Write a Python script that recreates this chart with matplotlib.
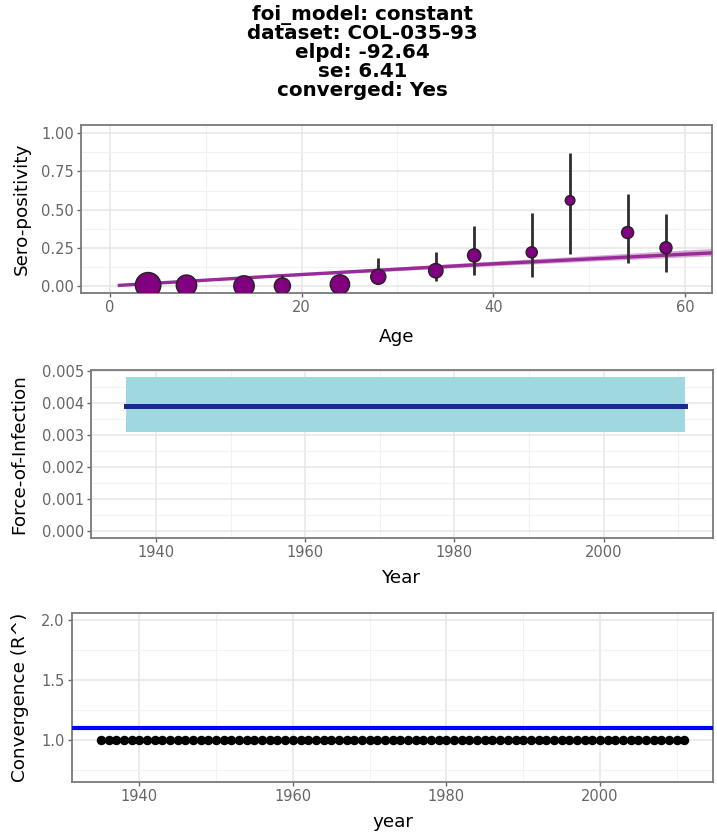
import matplotlib
matplotlib.use("Agg")
import matplotlib.pyplot as plt
import numpy as np

# --- data ---
title_lines = ["foi_model: constant", "dataset: COL-035-93", "elpd: -92.64",
               "se: 6.41", "converged: Yes"]

# sero-positivity by age group
ages = [4, 8, 14, 18, 24, 28, 34, 38, 44, 48, 54, 58]
prev = [0.005, 0.005, 0.0, 0.0, 0.01, 0.06, 0.10, 0.20, 0.22, 0.56, 0.35, 0.25]
prev_lo = [0.0, 0.0, 0.0, 0.0, 0.0, 0.025, 0.03, 0.07, 0.06, 0.21, 0.15, 0.09]
prev_hi = [0.03, 0.04, 0.05, 0.07, 0.06, 0.18, 0.22, 0.39, 0.48, 0.87, 0.60, 0.47]
n_sample = [62, 40, 40, 25, 36, 22, 20, 17, 12, 9, 14, 14]

# fitted sero-prevalence curve
fit_age = [1, 10, 20, 30, 40, 50, 60, 65]
fit_mid = [0.004, 0.038, 0.075, 0.110, 0.145, 0.177, 0.208, 0.223]
fit_lo = [0.003, 0.034, 0.068, 0.100, 0.132, 0.162, 0.190, 0.203]
fit_hi = [0.005, 0.043, 0.084, 0.124, 0.163, 0.199, 0.236, 0.252]

# force of infection (constant)
foi_years = [1936, 2011]
foi_mid = [0.0039, 0.0039]
foi_lo = [0.00307, 0.00307]
foi_hi = [0.00481, 0.00481]

# convergence
rhat_years = list(range(1935, 2012))
rhat = [1.0] * len(rhat_years)
rhat_threshold = 1.1

# --- style ---
plt.rcParams['font.family'] = ['DejaVu Sans']
TICK_C = '#666666'
GRID_MAJ = '#e6e6e6'
GRID_MIN = '#f2f2f2'
FRAME_C = '#7a7a7a'


def style_axes(ax, xmaj, xmin, ymaj, ymin, yfmt):
    ax.set_xticks(xmaj)
    ax.set_xticks(xmin, minor=True)
    ax.set_yticks(ymaj)
    ax.set_yticks(ymin, minor=True)
    ax.set_yticklabels([yfmt.format(v) for v in ymaj])
    ax.grid(True, which='major', color=GRID_MAJ, lw=1.1, zorder=0)
    ax.grid(True, which='minor', color=GRID_MIN, lw=0.8, zorder=0)
    ax.set_axisbelow(True)
    ax.tick_params(which='major', length=3, width=1.0, color=TICK_C,
                   labelcolor=TICK_C, labelsize=10.5, pad=2)
    ax.tick_params(which='minor', length=0)
    for sp in ax.spines.values():
        sp.set_color(FRAME_C)
        sp.set_linewidth(1.3)


fig = plt.figure(figsize=(7.17, 8.36), dpi=100)

# title, one line at a time
for i, line in enumerate(title_lines):
    fig.text(0.506, 1 - (15 + i * 18.8) / 836, line, ha='center', va='center',
             fontsize=14.3, fontweight='bold')

# panel 1: sero-positivity
ax1 = fig.add_axes([81 / 717, 1 - 293.3 / 836, 631 / 717, 168.3 / 836])
ax1.fill_between(fit_age, fit_lo, fit_hi, color='#b36bb3', alpha=0.55, lw=0, zorder=2)
ax1.plot(fit_age, fit_mid, color='#9a2a98', lw=2.4, zorder=3)
ax1.vlines(ages, prev_lo, prev_hi, color='#2e2e2e', lw=2.0, zorder=4)
ax1.scatter(ages, prev, s=[5.4 * n for n in n_sample], color='#800080',
            edgecolors='#222222', linewidths=1.0, zorder=5)
ax1.set_xlim(-3.0, 62.8)
ax1.set_ylim(-0.048, 1.054)
style_axes(ax1, [0, 20, 40, 60], [10, 30, 50],
           [0, 0.25, 0.5, 0.75, 1.0], [0.125, 0.375, 0.625, 0.875], '{:.2f}')
ax1.set_xlabel('Age', fontsize=13.2)
ax1.set_ylabel('Sero-positivity', fontsize=13.2)
ax1.xaxis.set_label_coords(0.5, -(337 - 293.3) / 168.3)
ax1.xaxis.label.set_va('center')
ax1.yaxis.set_label_coords(-(81 - 21.5) / 631, 0.5)
ax1.yaxis.label.set_va('center')

# panel 2: force of infection
ax2 = fig.add_axes([90.7 / 717, 1 - 537.7 / 836, 622 / 717, 168 / 836])
ax2.fill_between(foi_years, foi_lo, foi_hi, color='#9fd8df', lw=0, zorder=2)
ax2.plot(foi_years, foi_mid, color='#1c2a88', lw=3.6, zorder=3)
ax2.set_xlim(1931.2, 2014.65)
ax2.set_ylim(-0.00022, 0.00503)
style_axes(ax2, [1940, 1960, 1980, 2000], [1950, 1970, 1990, 2010],
           [0, 0.001, 0.002, 0.003, 0.004, 0.005],
           [0.0005, 0.0015, 0.0025, 0.0035, 0.0045], '{:.3f}')
ax2.set_xlabel('Year', fontsize=13.2)
ax2.set_ylabel('Force-of-Infection', fontsize=13.2)
ax2.xaxis.set_label_coords(0.5, -(578 - 537.7) / 168)
ax2.xaxis.label.set_va('center')
ax2.yaxis.set_label_coords(-(90.7 - 19.7) / 622, 0.5)
ax2.yaxis.label.set_va('center')

# panel 3: convergence
ax3 = fig.add_axes([71.7 / 717, 1 - 782.3 / 836, 641.6 / 717, 169 / 836])
ax3.axhline(rhat_threshold, color='#0000ff', lw=3.0, zorder=3)
ax3.plot(rhat_years, rhat, 'o', color='black', ms=5.8, zorder=4)
ax3.set_xlim(1931.2, 2014.76)
ax3.set_ylim(0.647, 2.056)
style_axes(ax3, [1940, 1960, 1980, 2000], [1950, 1970, 1990, 2010],
           [1.0, 1.5, 2.0], [0.75, 1.25, 1.75], '{:.1f}')
ax3.set_xlabel('year', fontsize=13.2)
ax3.set_ylabel('Convergence (R^)', fontsize=13.2)
ax3.xaxis.set_label_coords(0.5, -(822 - 782.3) / 169)
ax3.xaxis.label.set_va('center')
ax3.yaxis.set_label_coords(-(71.7 - 19.7) / 641.6, 0.5)
ax3.yaxis.label.set_va('center')

fig.savefig('out.png', dpi=100)
